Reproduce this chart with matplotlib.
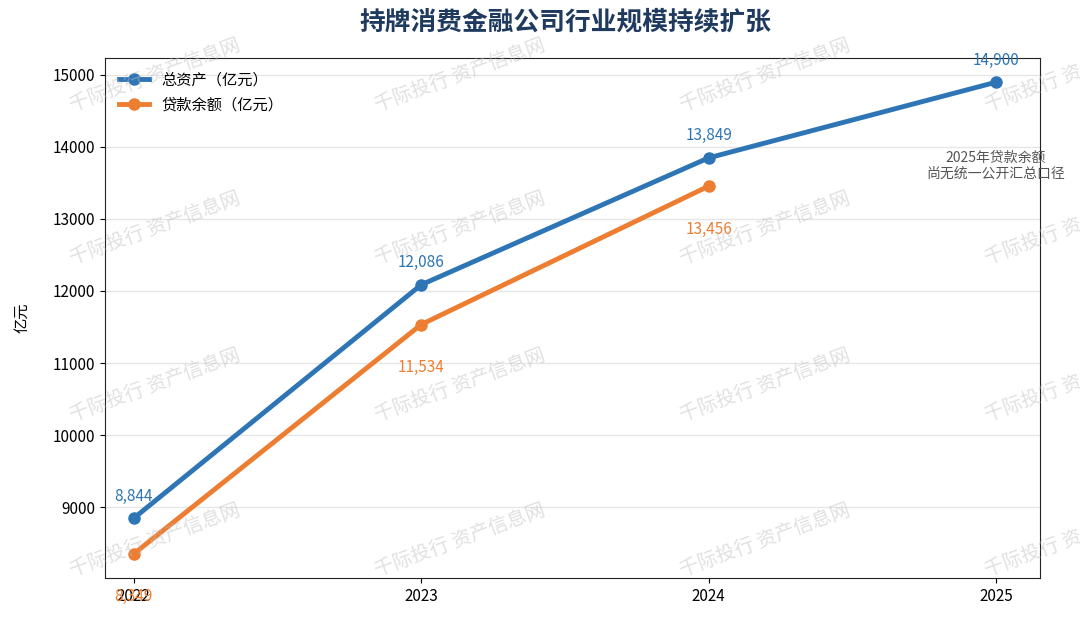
import matplotlib
matplotlib.use("Agg")
import matplotlib.pyplot as plt

plt.rcParams['font.family'] = ['Noto Sans CJK SC', 'DejaVu Sans']

years = ['2022', '2023', '2024', '2025']
total_assets = [8844, 12086, 13849, 14900]
loan_years = ['2022', '2023', '2024']
loans = [8349, 11534, 13456]
title = '持牌消费金融公司行业规模持续扩张'
note = '2025年贷款余额\n尚无统一公开汇总口径'
watermark = '千际投行 资产信息网'

blue = '#2e75b6'
orange = '#ed7d31'

fig = plt.figure(figsize=(10.8, 6.18), dpi=100)
ax = fig.add_axes([105/1080, 1-578/618, (1040-105)/1080, (578-58)/618])

xa = list(range(len(years)))
xl = list(range(len(loan_years)))
ax.plot(xa, total_assets, color=blue, lw=3.5, marker='o', ms=8, label='总资产（亿元）', zorder=3)
ax.plot(xl, loans, color=orange, lw=3.5, marker='o', ms=8, label='贷款余额（亿元）', zorder=3)

for x, v in zip(xa, total_assets):
    ax.annotate(f'{v:,}', (x, v), xytext=(0, 16), textcoords='offset points',
                ha='center', va='center', color=blue, fontsize=11)
for x, v in zip(xl, loans):
    ax.annotate(f'{v:,}', (x, v), xytext=(0, -31), textcoords='offset points',
                ha='center', va='center', color=orange, fontsize=11)

ax.text(3, 13940, note, ha='center', va='top', color='#555555', fontsize=10, linespacing=1.15)

ax.set_xticks(xa)
ax.set_xticklabels(years, fontsize=11)
ax.set_xlim(-0.1, 3.153)
ax.set_ylim(8014, 15236)
ax.set_yticks([9000, 10000, 11000, 12000, 13000, 14000, 15000])
ax.tick_params(axis='y', labelsize=11)
ax.set_ylabel('亿元', fontsize=11, labelpad=16)
ax.grid(axis='y', color='#e6e6e6', lw=1)
ax.set_axisbelow(True)
for s in ax.spines.values():
    s.set_color('#222222')

leg = ax.legend(loc='upper left', frameon=False, fontsize=11, bbox_to_anchor=(0.0, 1.0))

fig.text(565/1080, 1-22/618, title, ha='center', va='center', fontsize=18.5, fontweight='bold', color='#1f3a5f')

wm_x = [155, 460, 765, 1070]
wm_y = [75, 228, 385, 540]
for yy in wm_y:
    for xx in wm_x:
        fig.text(xx/1080, 1-yy/618, watermark, ha='center', va='center', rotation=20,
                 fontsize=14, color='#bbbbbb', alpha=0.45, zorder=10)

fig.savefig('out.png', dpi=100)
